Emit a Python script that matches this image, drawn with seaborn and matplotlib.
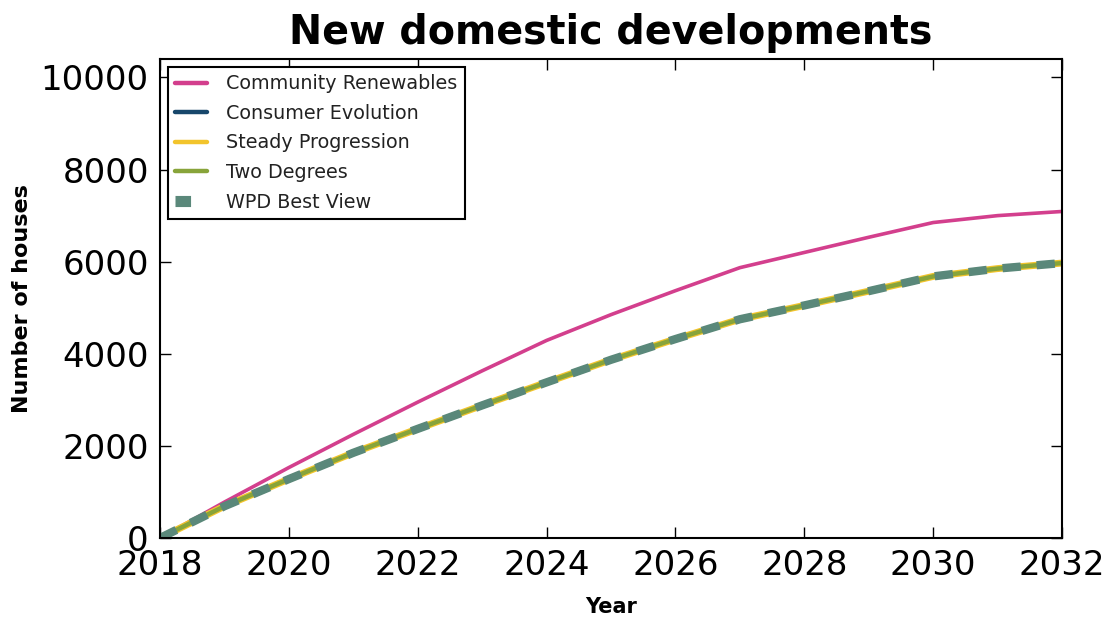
import matplotlib
matplotlib.use("Agg")
import matplotlib.pyplot as plt
import seaborn as sns
import pandas as pd

# Projected number of new domestic developments per scenario
years = [2018, 2019, 2020, 2021, 2022, 2023, 2024, 2025, 2026, 2027, 2028, 2029, 2030, 2031, 2032]
community_renewables = [0, 780, 1530, 2250, 2950, 3630, 4290, 4850, 5370, 5870, 6200, 6530, 6850, 7000, 7090]
consumer_evolution = [0, 690, 1280, 1850, 2370, 2880, 3380, 3870, 4320, 4750, 5050, 5360, 5680, 5850, 5970]
steady_progression = [0, 690, 1280, 1850, 2370, 2880, 3380, 3870, 4320, 4750, 5050, 5360, 5680, 5850, 5970]
two_degrees = [0, 690, 1280, 1850, 2370, 2880, 3380, 3870, 4320, 4750, 5050, 5360, 5680, 5850, 5970]
wpd_best_view = [0, 690, 1280, 1850, 2370, 2880, 3380, 3870, 4320, 4750, 5050, 5360, 5680, 5850, 5970]

series = {
    "Community Renewables": community_renewables,
    "Consumer Evolution": consumer_evolution,
    "Steady Progression": steady_progression,
    "Two Degrees": two_degrees,
    "WPD Best View": wpd_best_view,
}
styles = {
    "Community Renewables": dict(color="#d33f8d", linewidth=2.6),
    "Consumer Evolution": dict(color="#17476b", linewidth=3.0),
    "Steady Progression": dict(color="#f2c42c", linewidth=5.0),
    "Two Degrees": dict(color="#88a43a", linewidth=3.2),
    "WPD Best View": dict(color="#5a887a", linewidth=6.0, dashes=(2.2, 1.9)),
}

sns.set_style("ticks")
plt.rcParams["font.family"] = ["DejaVu Sans"]
plt.rcParams["text.color"] = "black"

fig = plt.figure(figsize=(11.1, 6.18), dpi=100)
ax = fig.add_axes([0.1441, 0.1294, 0.8127, 0.7751])

for name, vals in series.items():
    df = pd.DataFrame({"Year": years, "Houses": vals})
    st = dict(styles[name])
    dashes = st.pop("dashes", None)
    sns.lineplot(data=df, x="Year", y="Houses", ax=ax, label=name, **st)
    if dashes is not None:
        ax.lines[-1].set_dashes(dashes)
        ax.lines[-1].set_dash_capstyle("butt")

ax.set_xlim(2018, 2032)
ax.set_ylim(0, 10400)
ax.set_xticks(range(2018, 2033, 2))
ax.set_yticks(range(0, 10001, 2000))
ax.tick_params(axis="both", which="major", direction="in", length=8, width=1,
               top=True, right=True, labelsize=24.5, pad=8, colors="black")
for sp in ax.spines.values():
    sp.set_linewidth(1.5)
    sp.set_color("black")

ax.set_title("New domestic developments", fontsize=28.5, fontweight="bold",
             color="black", pad=10.5)
ax.set_xlabel("Year", fontsize=15, fontweight="bold", color="black", labelpad=11)
ax.set_ylabel("Number of houses", fontsize=16, fontweight="bold", color="black")
ax.yaxis.set_label_coords(-0.142, 0.5)

leg = ax.legend(loc="upper left", fontsize=13.8, frameon=True, fancybox=False,
                edgecolor="black", framealpha=1, handlelength=1.65,
                handletextpad=1.0, borderaxespad=0.4, labelspacing=0.55)
leg.get_frame().set_linewidth(1.5)
for t in leg.get_texts():
    t.set_color("#222222")
for h in leg.get_lines():
    if h.get_label() == "WPD Best View":
        h.set_linewidth(8)
        h.set_dashes((1.4, 3.0))
    else:
        h.set_linewidth(3.2)

fig.savefig("out.png", dpi=100)
